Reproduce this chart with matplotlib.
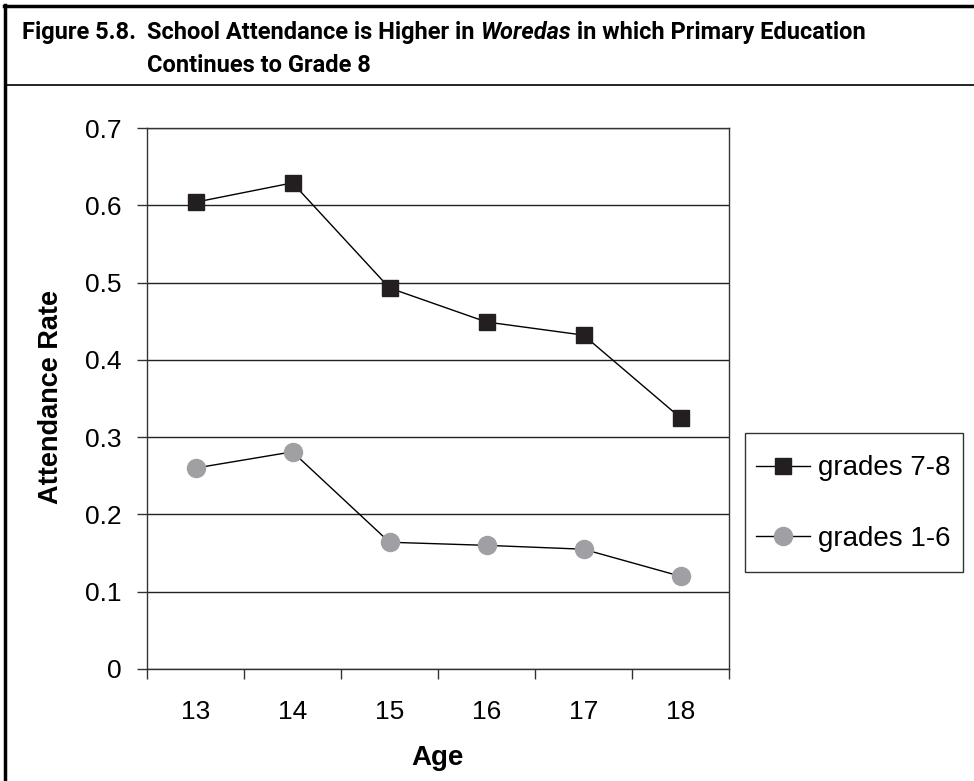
import matplotlib
matplotlib.use("Agg")
import matplotlib.pyplot as plt
from matplotlib.lines import Line2D
from matplotlib.patches import Rectangle
from matplotlib.ticker import FixedLocator

ages = ["13", "14", "15", "16", "17", "18"]
grades_7_8 = [0.604, 0.629, 0.493, 0.449, 0.432, 0.325]
grades_1_6 = [0.260, 0.281, 0.164, 0.160, 0.155, 0.120]
y_ticks = [0, 0.1, 0.2, 0.3, 0.4, 0.5, 0.6, 0.7]
y_tick_labels = ["0", "0.1", "0.2", "0.3", "0.4", "0.5", "0.6", "0.7"]

W, H = 974, 781
fig = plt.figure(figsize=(W / 100, H / 100), dpi=100)
fig.patch.set_facecolor("white")

def fx(px):
    return px / W

def fy(py):
    return 1 - py / H

# frame lines
fig.add_artist(Line2D([fx(5), fx(5)], [fy(5), fy(H)], color="black", lw=2.5, transform=fig.transFigure))
fig.add_artist(Line2D([fx(4), fx(W)], [fy(6), fy(6)], color="black", lw=2.5, transform=fig.transFigure))
fig.add_artist(Line2D([fx(5), fx(W)], [fy(85), fy(85)], color="black", lw=1.2, transform=fig.transFigure))

title_font = ["Roboto", "DejaVu Sans"]
tsize = 17
fig.text(fx(22), fy(39), "Figure 5.8.", fontsize=tsize, fontweight="bold",
         family=title_font, va="baseline", ha="left")
t1 = fig.text(fx(147), fy(39), "School Attendance is Higher in ", fontsize=tsize,
              fontweight="bold", family=title_font, va="baseline", ha="left")
fig.canvas.draw()
bb = t1.get_window_extent()
t2 = fig.text(bb.x1 / W, fy(39), "Woredas", fontsize=tsize, fontweight="bold", fontstyle="italic",
              family=title_font, va="baseline", ha="left")
fig.canvas.draw()
bb2 = t2.get_window_extent()
fig.text(bb2.x1 / W, fy(39), " in which Primary Education", fontsize=tsize, fontweight="bold",
         family=title_font, va="baseline", ha="left")
fig.text(fx(147), fy(72), "Continues to Grade 8", fontsize=tsize, fontweight="bold",
         family=title_font, va="baseline", ha="left")

ax_l, ax_r, ax_t, ax_b = 147, 729, 128, 669
ax = fig.add_axes([fx(ax_l), fy(ax_b), (ax_r - ax_l) / W, (ax_b - ax_t) / H])

x = list(range(len(ages)))
ax.plot(x, grades_7_8, color="black", lw=1.0, marker="s", markersize=11.5,
        markerfacecolor="#231f20", markeredgecolor="#231f20", label="grades 7-8", zorder=3)
ax.plot(x, grades_1_6, color="black", lw=1.0, marker="o", markersize=13,
        markerfacecolor="#a0a0a4", markeredgecolor="#a0a0a4", label="grades 1-6", zorder=3)

ax.set_xlim(-0.5, len(ages) - 0.5)
ax.set_ylim(0, 0.7)
ax.set_yticks(y_ticks)
ax.set_yticklabels(y_tick_labels)
ax.set_xticks(x)
ax.set_xticklabels(ages)
ax.xaxis.set_minor_locator(FixedLocator([i - 0.5 for i in range(len(ages) + 1)]))
ax.tick_params(axis="x", which="major", length=0, pad=22, labelsize=19)
ax.tick_params(axis="x", which="minor", length=7, width=1, color="#333333")
ax.tick_params(axis="y", which="major", length=7, width=1, color="#333333", pad=11, labelsize=19)
for lab in ax.get_xticklabels() + ax.get_yticklabels():
    lab.set_family(["Liberation Sans", "DejaVu Sans"])

ax.yaxis.grid(True, color="#222222", lw=1.0)
ax.set_axisbelow(True)
for s in ax.spines.values():
    s.set_color("#333333")
    s.set_linewidth(1.0)

lab_font = ["Liberation Sans", "DejaVu Sans"]
fig.text(fx(51), fy(397), "Attendance Rate", rotation=90, fontsize=19.5, fontweight="bold",
         family=lab_font, ha="center", va="center")
fig.text(fx(437), fy(758), "Age", fontsize=20, fontweight="bold",
         family=lab_font, ha="center", va="center")

# legend box
fig.add_artist(Rectangle((fx(745), fy(572)), (963 - 745) / W, (572 - 433) / H,
                         transform=fig.transFigure, facecolor="white",
                         edgecolor="#333333", lw=1.0))
leg = fig.legend(loc="center left", bbox_to_anchor=(fx(756), fy(503.5)),
                 prop={"family": lab_font, "size": 20},
                 frameon=False, borderpad=0, labelspacing=1.6, handlelength=1.95,
                 handletextpad=0.3, borderaxespad=0)
leg.set_zorder(5)

fig.savefig("out.png", dpi=100, facecolor="white")
